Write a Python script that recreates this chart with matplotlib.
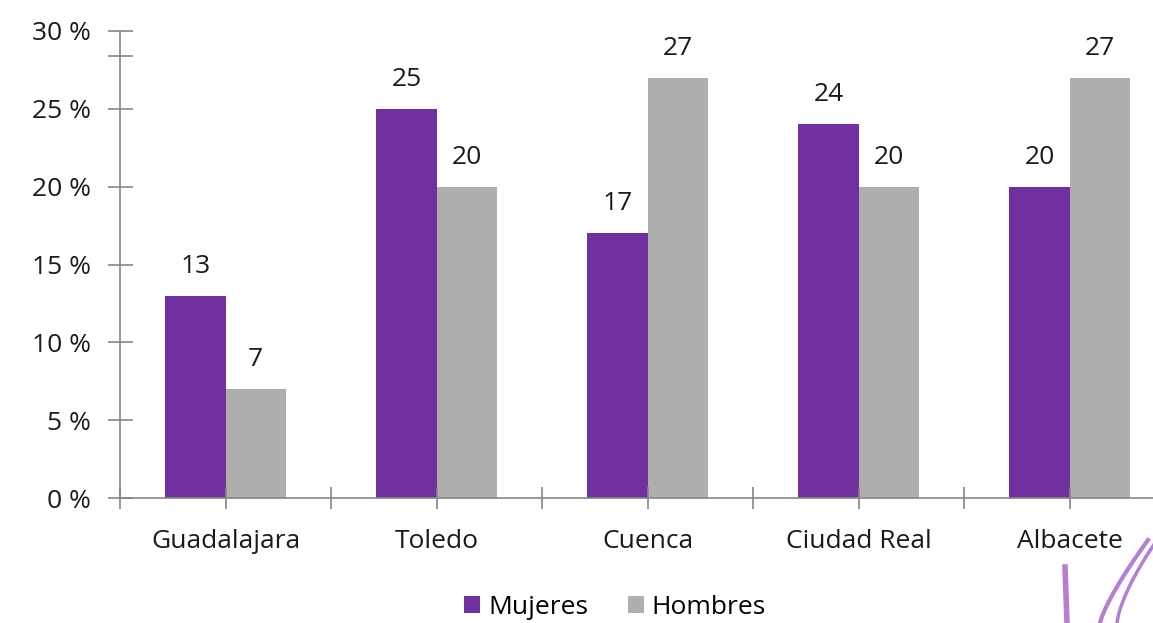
import matplotlib
matplotlib.use("Agg")
import matplotlib.pyplot as plt
import numpy as np

provincias = ["Guadalajara", "Toledo", "Cuenca", "Ciudad Real", "Albacete"]
mujeres = [13, 25, 17, 24, 20]
hombres = [7, 20, 27, 20, 27]
yticks = [0, 5, 10, 15, 20, 25, 30]

plt.rcParams['font.family'] = ['Open Sans', 'DejaVu Sans']
txt = "#1a1a1a"
fs = 19

fig = plt.figure(figsize=(11.53, 6.23), dpi=100)
# axes runs past the right edge like in the original
ax = fig.add_axes([120 / 1153, 1 - 498 / 623, 1055 / 1153, 467 / 623])

x = np.arange(len(provincias))
w = 0.285
b1 = ax.bar(x - w / 2, mujeres, w, color="#7030A0", label="Mujeres")
b2 = ax.bar(x + w / 2, hombres, w, color="#B0ADAD", label="Hombres")

for bars, vals in ((b1, mujeres), (b2, hombres)):
    for r, v in zip(bars, vals):
        ax.text(r.get_x() + r.get_width() / 2, v + 1.1, str(v),
                ha="center", va="bottom", fontsize=fs, color=txt)

ax.set_xlim(-0.5, len(provincias) - 0.5)
ax.set_ylim(0, 30)

ax.set_yticks(yticks)
ax.set_yticklabels([f"{t} %" for t in yticks], fontsize=fs, color=txt)
ax.set_yticks([28.4], minor=True)

ax.set_xticks(x)
ax.set_xticklabels(provincias, fontsize=fs, color=txt)
ax.set_xticks(np.arange(-0.5, len(provincias), 1.0), minor=True)

for s in ("top", "right"):
    ax.spines[s].set_visible(False)
for s in ("left", "bottom"):
    ax.spines[s].set_color("#868686")
    ax.spines[s].set_linewidth(1.2)

ax.tick_params(axis="y", which="both", direction="inout", length=18, color="#868686", width=1.2, pad=12)
ax.tick_params(axis="x", which="both", direction="inout", length=16, color="#868686", width=1.2)
ax.tick_params(axis="x", which="major", pad=14)

fig.legend(handles=[b1, b2], loc="center", bbox_to_anchor=(615 / 1153, 1 - 607 / 623),
           ncol=2, frameon=False, fontsize=fs, handlelength=0.6, handleheight=0.6,
           handletextpad=0.3, columnspacing=1.5)

# decorative swoosh in the corner
fig.add_artist(plt.Line2D([1065 / 1153, 1067 / 1153], [1 - 567 / 623, 0], color="#B57FD0", lw=4))
t = np.linspace(0, 1, 30)
fig.add_artist(plt.Line2D((1100 + 48 * t) / 1153, (83 / 623) * t ** 0.8,
                          color="#B57FD0", lw=3))
fig.add_artist(plt.Line2D((1117 + 38 * t) / 1153, (80 / 623) * t ** 0.7,
                          color="#B57FD0", lw=2.5))

fig.savefig("out.png", dpi=100)
